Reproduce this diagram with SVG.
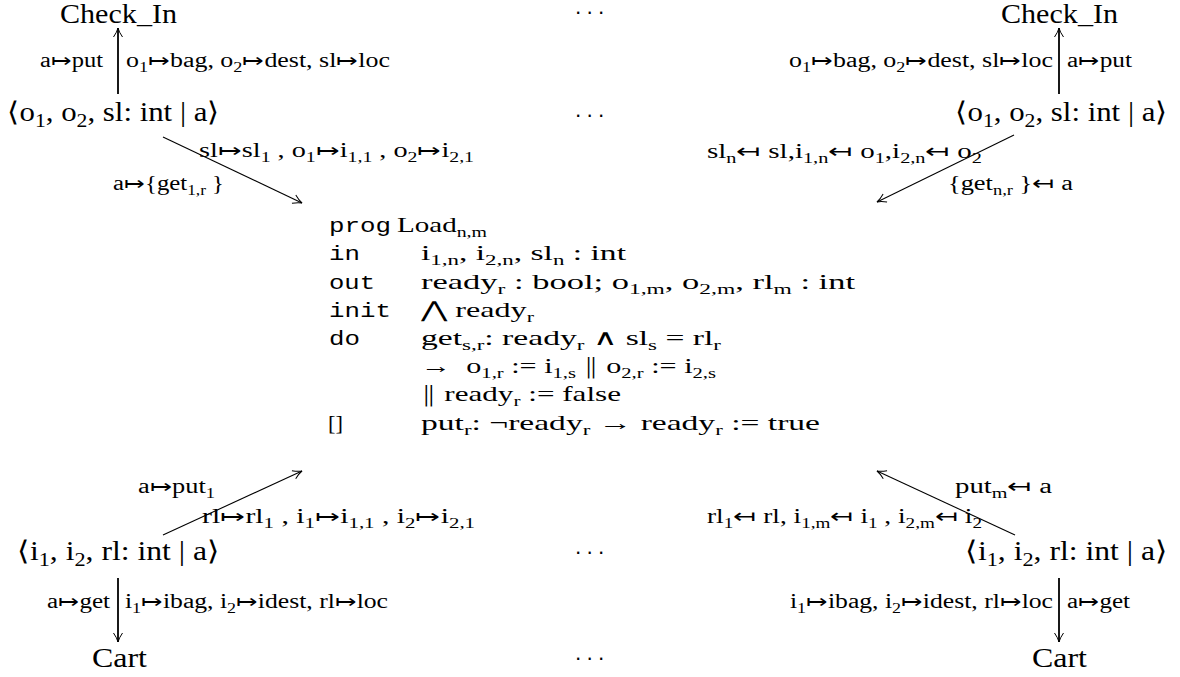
<svg xmlns="http://www.w3.org/2000/svg" width="1180" height="677" viewBox="0 0 1180 677">
<style>
text{fill:#000;white-space:pre;font-family:"Liberation Serif","DejaVu Serif","DejaVu Sans",serif}
.m{font-size:27px}
.l{font-size:20px}
.c{font-size:22px}
.t{font-family:"Liberation Mono","DejaVu Sans Mono",monospace;font-size:21px}
.sm{font-size:19px}
.sl{font-size:14px}
.sc{font-size:15px}
.x{font-family:"DejaVu Sans",sans-serif;font-weight:200}
.dots{font-family:"DejaVu Sans",sans-serif;font-size:20px;letter-spacing:5.1px}
.e{fill:none;stroke:#000}
.v{stroke-width:1.8}
.d{stroke-width:1.1}
</style>
<defs>
<marker id="ah" viewBox="-11 -6 13 12" refX="0" refY="0" markerWidth="13" markerHeight="12" markerUnits="userSpaceOnUse" orient="auto">
<path d="M-9,-4.5 Q-4,-1 0,0 Q-4,1 -9,4.5" fill="none" stroke="#000" stroke-width="1"/>
</marker>
</defs>
<rect width="1180" height="677" fill="#fff"/>

<g id="connectors">
<line class="e v" x1="118" y1="94" x2="118" y2="28" marker-end="url(#ah)"/>
<line class="e v" x1="1059" y1="94" x2="1059" y2="28" marker-end="url(#ah)"/>
<line class="e d" x1="163" y1="137" x2="302" y2="203" marker-end="url(#ah)"/>
<line class="e d" x1="1014" y1="135" x2="877" y2="202" marker-end="url(#ah)"/>
<line class="e d" x1="163" y1="535" x2="302" y2="471" marker-end="url(#ah)"/>
<line class="e d" x1="1015" y1="535" x2="877" y2="471" marker-end="url(#ah)"/>
<line class="e v" x1="118" y1="578" x2="118" y2="642" marker-end="url(#ah)"/>
<line class="e v" x1="1059" y1="578" x2="1059" y2="642" marker-end="url(#ah)"/>
</g>

<g id="checkin-left">
<text class="m" x="60" y="23" textLength="117" lengthAdjust="spacingAndGlyphs">Check_In</text>
</g>
<g id="checkin-right">
<text class="m" x="1001" y="23" textLength="117" lengthAdjust="spacingAndGlyphs">Check_In</text>
</g>
<g id="dots">
<text class="dots" x="575" y="20">···</text>
<text class="dots" x="575" y="123">···</text>
<text class="dots" x="575" y="560">···</text>
<text class="dots" x="575" y="666">···</text>
</g>

<g id="labels-top-left">
<text class="l" x="40" y="67" textLength="63" lengthAdjust="spacingAndGlyphs">a<tspan class="x">↦</tspan>put</text>
<text class="l" x="126" y="67" textLength="264" lengthAdjust="spacingAndGlyphs">o<tspan class="sl" dy="4.5">1</tspan><tspan class="x" dy="-4.5">↦</tspan>bag, o<tspan class="sl" dy="4.5">2</tspan><tspan class="x" dy="-4.5">↦</tspan>dest, sl<tspan class="x">↦</tspan>loc</text>
<text class="l" x="199" y="157" textLength="275" lengthAdjust="spacingAndGlyphs">sl<tspan class="x">↦</tspan>sl<tspan class="sl" dy="4.5">1</tspan><tspan dy="-4.5"> , o</tspan><tspan class="sl" dy="4.5">1</tspan><tspan class="x" dy="-4.5">↦</tspan>i<tspan class="sl" dy="4.5">1,1</tspan><tspan dy="-4.5"> , o</tspan><tspan class="sl" dy="4.5">2</tspan><tspan class="x" dy="-4.5">↦</tspan>i<tspan class="sl" dy="4.5">2,1</tspan></text>
<text class="l" x="113" y="190" textLength="111" lengthAdjust="spacingAndGlyphs">a<tspan class="x">↦</tspan>{get<tspan class="sl" dy="4.5">1,r</tspan><tspan dy="-4.5"> }</tspan></text>
</g>

<g id="node-out-left">
<text class="m" x="7" y="121" textLength="213" lengthAdjust="spacingAndGlyphs"><tspan class="x">⟨</tspan>o<tspan class="sm" dy="6">1</tspan><tspan dy="-6">, o</tspan><tspan class="sm" dy="6">2</tspan><tspan dy="-6">, sl: int | a</tspan><tspan class="x">⟩</tspan></text>
</g>

<g id="labels-top-right">
<text class="l" x="789" y="67" textLength="264" lengthAdjust="spacingAndGlyphs">o<tspan class="sl" dy="4.5">1</tspan><tspan class="x" dy="-4.5">↦</tspan>bag, o<tspan class="sl" dy="4.5">2</tspan><tspan class="x" dy="-4.5">↦</tspan>dest, sl<tspan class="x">↦</tspan>loc</text>
<text class="l" x="1067" y="67" textLength="65" lengthAdjust="spacingAndGlyphs">a<tspan class="x">↦</tspan>put</text>
<text class="l" x="707" y="158" textLength="275" lengthAdjust="spacingAndGlyphs">sl<tspan class="sl" dy="4.5">n</tspan><tspan class="x" dy="-4.5">↤</tspan> sl,i<tspan class="sl" dy="4.5">1,n</tspan><tspan class="x" dy="-4.5">↤</tspan> o<tspan class="sl" dy="4.5">1</tspan><tspan dy="-4.5">,i</tspan><tspan class="sl" dy="4.5">2,n</tspan><tspan class="x" dy="-4.5">↤</tspan> o<tspan class="sl" dy="4.5">2</tspan></text>
<text class="l" x="948" y="190" textLength="125" lengthAdjust="spacingAndGlyphs">{get<tspan class="sl" dy="4.5">n,r</tspan><tspan dy="-4.5"> }</tspan><tspan class="x">↤</tspan> a</text>
</g>

<g id="node-out-right">
<text class="m" x="955" y="121" textLength="213" lengthAdjust="spacingAndGlyphs"><tspan class="x">⟨</tspan>o<tspan class="sm" dy="6">1</tspan><tspan dy="-6">, o</tspan><tspan class="sm" dy="6">2</tspan><tspan dy="-6">, sl: int | a</tspan><tspan class="x">⟩</tspan></text>
</g>

<g id="program">
<text class="t" x="329" y="232" textLength="62" lengthAdjust="spacingAndGlyphs">prog</text>
<text class="c" x="397" y="232" textLength="90" lengthAdjust="spacingAndGlyphs">Load<tspan class="sc" dy="5">n,m</tspan></text>
<text class="t" x="329" y="260" textLength="31" lengthAdjust="spacingAndGlyphs">in</text>
<text class="c" x="421" y="260" textLength="205" lengthAdjust="spacingAndGlyphs">i<tspan class="sc" dy="5">1,n</tspan><tspan dy="-5">, i</tspan><tspan class="sc" dy="5">2,n</tspan><tspan dy="-5">, sl</tspan><tspan class="sc" dy="5">n</tspan><tspan dy="-5"> : int</tspan></text>
<text class="t" x="329" y="289" textLength="46" lengthAdjust="spacingAndGlyphs">out</text>
<text class="c" x="421" y="289" textLength="434" lengthAdjust="spacingAndGlyphs">ready<tspan class="sc" dy="5">r</tspan><tspan dy="-5"> : bool; o</tspan><tspan class="sc" dy="5">1,m</tspan><tspan dy="-5">, o</tspan><tspan class="sc" dy="5">2,m</tspan><tspan dy="-5">, rl</tspan><tspan class="sc" dy="5">m</tspan><tspan dy="-5"> : int</tspan></text>
<text class="t" x="329" y="317" textLength="62" lengthAdjust="spacingAndGlyphs">init</text>
<text class="c" x="421" y="317" textLength="113" lengthAdjust="spacingAndGlyphs"><tspan class="x">⋀</tspan> ready<tspan class="sc" dy="5">r</tspan></text>
<text class="t" x="329" y="345" textLength="31" lengthAdjust="spacingAndGlyphs">do</text>
<text class="c" x="421" y="345" textLength="300" lengthAdjust="spacingAndGlyphs">get<tspan class="sc" dy="5">s,r</tspan><tspan dy="-5">: ready</tspan><tspan class="sc" dy="5">r</tspan><tspan dy="-5"> </tspan><tspan class="x">∧</tspan> sl<tspan class="sc" dy="5">s</tspan><tspan dy="-5"> = rl</tspan><tspan class="sc" dy="5">r</tspan></text>
<text class="c" x="421" y="373" textLength="295" lengthAdjust="spacingAndGlyphs">→  o<tspan class="sc" dy="5">1,r</tspan><tspan dy="-5"> := i</tspan><tspan class="sc" dy="5">1,s</tspan><tspan dy="-5"> </tspan><tspan class="x">‖</tspan> o<tspan class="sc" dy="5">2,r</tspan><tspan dy="-5"> := i</tspan><tspan class="sc" dy="5">2,s</tspan></text>
<text class="c" x="421" y="401" textLength="200" lengthAdjust="spacingAndGlyphs"><tspan class="x">‖</tspan> ready<tspan class="sc" dy="5">r</tspan><tspan dy="-5"> := false</tspan></text>
<text class="c" x="328" y="430" textLength="15" lengthAdjust="spacingAndGlyphs">[]</text>
<text class="c" x="421" y="430" textLength="399" lengthAdjust="spacingAndGlyphs">put<tspan class="sc" dy="5">r</tspan><tspan dy="-5">: ¬ready</tspan><tspan class="sc" dy="5">r</tspan><tspan dy="-5"> → ready</tspan><tspan class="sc" dy="5">r</tspan><tspan dy="-5"> := true</tspan></text>
</g>

<g id="labels-bottom-left">
<text class="l" x="138" y="493" textLength="77" lengthAdjust="spacingAndGlyphs">a<tspan class="x">↦</tspan>put<tspan class="sl" dy="4.5">1</tspan></text>
<text class="l" x="202" y="523" textLength="273" lengthAdjust="spacingAndGlyphs">rl<tspan class="x">↦</tspan>rl<tspan class="sl" dy="4.5">1</tspan><tspan dy="-4.5"> , i</tspan><tspan class="sl" dy="4.5">1</tspan><tspan class="x" dy="-4.5">↦</tspan>i<tspan class="sl" dy="4.5">1,1</tspan><tspan dy="-4.5"> , i</tspan><tspan class="sl" dy="4.5">2</tspan><tspan class="x" dy="-4.5">↦</tspan>i<tspan class="sl" dy="4.5">2,1</tspan></text>
<text class="l" x="47" y="608" textLength="63" lengthAdjust="spacingAndGlyphs">a<tspan class="x">↦</tspan>get</text>
<text class="l" x="125" y="608" textLength="263" lengthAdjust="spacingAndGlyphs">i<tspan class="sl" dy="4.5">1</tspan><tspan class="x" dy="-4.5">↦</tspan>ibag, i<tspan class="sl" dy="4.5">2</tspan><tspan class="x" dy="-4.5">↦</tspan>idest, rl<tspan class="x">↦</tspan>loc</text>
</g>

<g id="node-in-left">
<text class="m" x="17" y="560" textLength="203" lengthAdjust="spacingAndGlyphs"><tspan class="x">⟨</tspan>i<tspan class="sm" dy="6">1</tspan><tspan dy="-6">, i</tspan><tspan class="sm" dy="6">2</tspan><tspan dy="-6">, rl: int | a</tspan><tspan class="x">⟩</tspan></text>
</g>
<g id="cart-left">
<text class="m" x="92" y="667" textLength="55" lengthAdjust="spacingAndGlyphs">Cart</text>
</g>

<g id="labels-bottom-right">
<text class="l" x="955" y="493" textLength="97" lengthAdjust="spacingAndGlyphs">put<tspan class="sl" dy="4.5">m</tspan><tspan class="x" dy="-4.5">↤</tspan> a</text>
<text class="l" x="707" y="523" textLength="275" lengthAdjust="spacingAndGlyphs">rl<tspan class="sl" dy="4.5">1</tspan><tspan class="x" dy="-4.5">↤</tspan> rl, i<tspan class="sl" dy="4.5">1,m</tspan><tspan class="x" dy="-4.5">↤</tspan> i<tspan class="sl" dy="4.5">1</tspan><tspan dy="-4.5"> , i</tspan><tspan class="sl" dy="4.5">2,m</tspan><tspan class="x" dy="-4.5">↤</tspan> i<tspan class="sl" dy="4.5">2</tspan></text>
<text class="l" x="790" y="608" textLength="263" lengthAdjust="spacingAndGlyphs">i<tspan class="sl" dy="4.5">1</tspan><tspan class="x" dy="-4.5">↦</tspan>ibag, i<tspan class="sl" dy="4.5">2</tspan><tspan class="x" dy="-4.5">↦</tspan>idest, rl<tspan class="x">↦</tspan>loc</text>
<text class="l" x="1067" y="608" textLength="63" lengthAdjust="spacingAndGlyphs">a<tspan class="x">↦</tspan>get</text>
</g>

<g id="node-in-right">
<text class="m" x="965" y="560" textLength="203" lengthAdjust="spacingAndGlyphs"><tspan class="x">⟨</tspan>i<tspan class="sm" dy="6">1</tspan><tspan dy="-6">, i</tspan><tspan class="sm" dy="6">2</tspan><tspan dy="-6">, rl: int | a</tspan><tspan class="x">⟩</tspan></text>
</g>
<g id="cart-right">
<text class="m" x="1032" y="667" textLength="55" lengthAdjust="spacingAndGlyphs">Cart</text>
</g>
</svg>
